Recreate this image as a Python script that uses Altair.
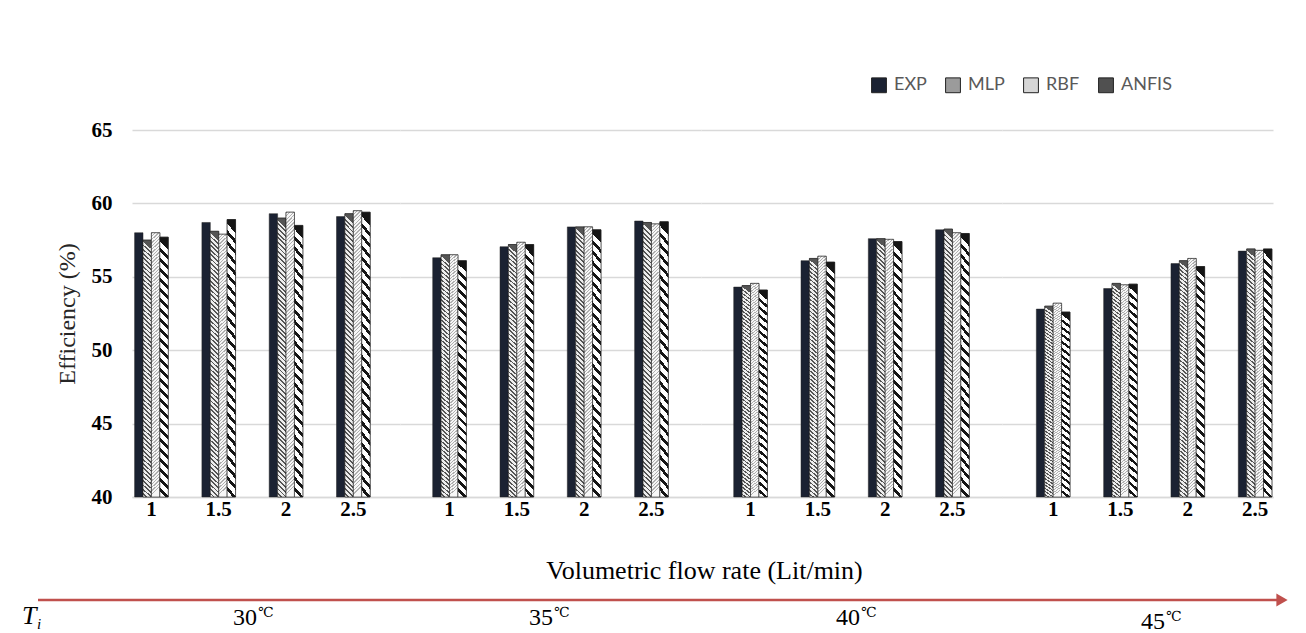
import altair as alt
import pandas as pd

temps = ["30", "35", "40", "45"]
flows = ["1", "1.5", "2", "2.5"]
models = ["EXP", "MLP", "RBF", "ANFIS"]
y_ticks = [40, 45, 50, 55, 60, 65]

# values ordered temp-major (30,35,40,45) and flow-minor (1,1.5,2,2.5)
exp_vals = [58.0, 58.7, 59.3, 59.1, 56.3, 57.05, 58.4, 58.8, 54.3, 56.1, 57.6, 58.2, 52.8, 54.2, 55.9, 56.75]
mlp_vals = [57.5, 58.1, 59.0, 59.3, 56.5, 57.2, 58.4, 58.7, 54.4, 56.25, 57.6, 58.25, 53.0, 54.55, 56.1, 56.9]
rbf_vals = [58.0, 57.9, 59.4, 59.5, 56.5, 57.35, 58.4, 58.6, 54.55, 56.4, 57.55, 58.0, 53.2, 54.45, 56.25, 56.8]
anfis_vals = [57.7, 58.9, 58.5, 59.4, 56.1, 57.2, 58.2, 58.75, 54.1, 56.0, 57.4, 57.95, 52.6, 54.5, 55.7, 56.9]

rows = []
for m, vals in zip(models, [exp_vals, mlp_vals, rbf_vals, anfis_vals]):
    for k, v in enumerate(vals):
        rows.append({"temp": temps[k // 4], "flow": flows[k % 4], "model": m, "eff": v})
df = pd.DataFrame(rows)

SERIF = "Liberation Serif"
RED = "#c0504d"
legend_colors = ["#1b2232", "#9b9b9b", "#d6d6d6", "#505050"]


def stripes(c1, c2, n, frac, slant):
    stops = []
    for i in range(n):
        a, b, c = i / n, (i + frac) / n, (i + 1) / n
        stops += [alt.GradientStop(color=c1, offset=a), alt.GradientStop(color=c1, offset=b),
                  alt.GradientStop(color=c2, offset=b), alt.GradientStop(color=c2, offset=c)]
    return alt.LinearGradient(gradient="linear", stops=stops, x1=slant, x2=0, y1=0, y2=1)


patterns = {
    "MLP": stripes("#555555", "#eeeeee", 60, 0.4, 0.03),
    "RBF": stripes("#b0b0b0", "#f7f7f7", 80, 0.4, -0.03),
    "ANFIS": stripes("#151515", "#ffffff", 26, 0.4, 0.035),
}

widths = [268, 301, 301, 271]
pad_outer = [0.241, 0.486, 0.486, 0.263]
aligns = [0.08, 0.5, 0.5, 0.97]
label_x = [113, 141, 147, 151]
label_y = [495, 495, 495, 499]
H = 367

legend = alt.Legend(orient="none", legendX=738, legendY=-54, direction="horizontal", title=None,
                    symbolType="square", symbolSize=220, symbolStrokeColor="#222", symbolStrokeWidth=1,
                    symbolOpacity=1, labelFont="Lato", labelFontSize=18, labelColor="#595959",
                    columnPadding=16, labelOffset=6)


def panel(i):
    t = temps[i]
    base = alt.Chart(df).transform_filter(alt.datum.temp == t)
    xkw = dict(labelAngle=0, ticks=False, labelFont=SERIF, labelFontSize=21, labelFontWeight="bold",
               labelColor="black", labelPadding=1, domainColor="#d9d9d9", domainWidth=1.5, grid=False)
    if i == 1:
        xkw.update(title="Volumetric flow rate (Lit/min)", titleX=304, titleY=81, titleAlign="center",
                   titleBaseline="alphabetic", titleFont=SERIF, titleFontSize=26, titleFontWeight="normal",
                   titleColor="black")
    else:
        xkw.update(title=None)
    x = alt.X("flow:N", sort=flows,
              scale=alt.Scale(paddingInner=0.5, paddingOuter=pad_outer[i], align=aligns[i]),
              axis=alt.Axis(**xkw))
    if i == 0:
        yaxis = alt.Axis(values=y_ticks, title="Efficiency (%)", titleFont=SERIF, titleFontSize=24,
                         titleFontWeight="normal", titleColor="#262626", titlePadding=12,
                         labelFont=SERIF, labelFontSize=21, labelFontWeight="bold", labelColor="black",
                         labelPadding=20, ticks=False, domain=False, grid=True)
    else:
        yaxis = alt.Axis(values=y_ticks, title=None, labels=False, ticks=False, domain=False, grid=True)
    y = alt.Y("eff:Q", scale=alt.Scale(domain=[40, 65], zero=False, nice=False), axis=yaxis)
    xo = alt.XOffset("model:N", sort=models, scale=alt.Scale(domain=models, paddingInner=0, paddingOuter=0))
    enc = dict(x=x, xOffset=xo, y=y, y2=alt.datum(40))

    layers = [base.mark_bar(stroke="#222", strokeWidth=0.5).encode(
        fill=alt.Fill("model:N", scale=alt.Scale(domain=models, range=legend_colors), legend=legend), **enc)]
    for m in ["MLP", "RBF", "ANFIS"]:
        layers.append(base.transform_filter(alt.datum.model == m)
                      .mark_bar(fill=patterns[m], stroke="#222", strokeWidth=0.6).encode(**enc))

    tdf = pd.DataFrame({"temp": [t]})
    layers.append(alt.Chart(tdf).mark_text(font=SERIF, fontSize=24, align="center", baseline="alphabetic",
                                           color="black").encode(text="temp:N", x=alt.value(label_x[i]),
                                                                 y=alt.value(label_y[i])))
    layers.append(alt.Chart(tdf).mark_text(text="℃", font="DejaVu Serif", fontSize=14, align="left",
                                           baseline="alphabetic", color="black").encode(
        x=alt.value(label_x[i] + 13), y=alt.value(label_y[i] - 8)))

    if i == 0:
        one = pd.DataFrame({"a": [0]})
        layers.append(alt.Chart(one).mark_rule(color=RED, strokeWidth=2.5).encode(
            x=alt.value(-94), x2=alt.value(1146), y=alt.value(470)))
        layers.append(alt.Chart(one).mark_point(shape="triangle-right", filled=True, color=RED, size=170,
                                                opacity=1).encode(x=alt.value(1150), y=alt.value(470)))
        layers.append(alt.Chart(one).mark_text(text="T", font=SERIF, fontStyle="italic", fontSize=26,
                                               align="left", baseline="alphabetic", color="black").encode(
            x=alt.value(-110), y=alt.value(494)))
        layers.append(alt.Chart(one).mark_text(text="i", font=SERIF, fontStyle="italic", fontSize=15,
                                               align="left", baseline="alphabetic", color="black").encode(
            x=alt.value(-95), y=alt.value(499)))

    return alt.layer(*layers).properties(width=widths[i], height=H)


chart = alt.hconcat(*[panel(i) for i in range(4)], spacing=0, bounds="flush").properties(
    padding={"left": 14, "top": 68, "right": 5, "bottom": 5}
).configure_view(stroke=None).configure_axis(gridColor="#d9d9d9", gridWidth=1.5)

chart.save("out.html", embed_options={"renderer": "svg", "actions": False})
